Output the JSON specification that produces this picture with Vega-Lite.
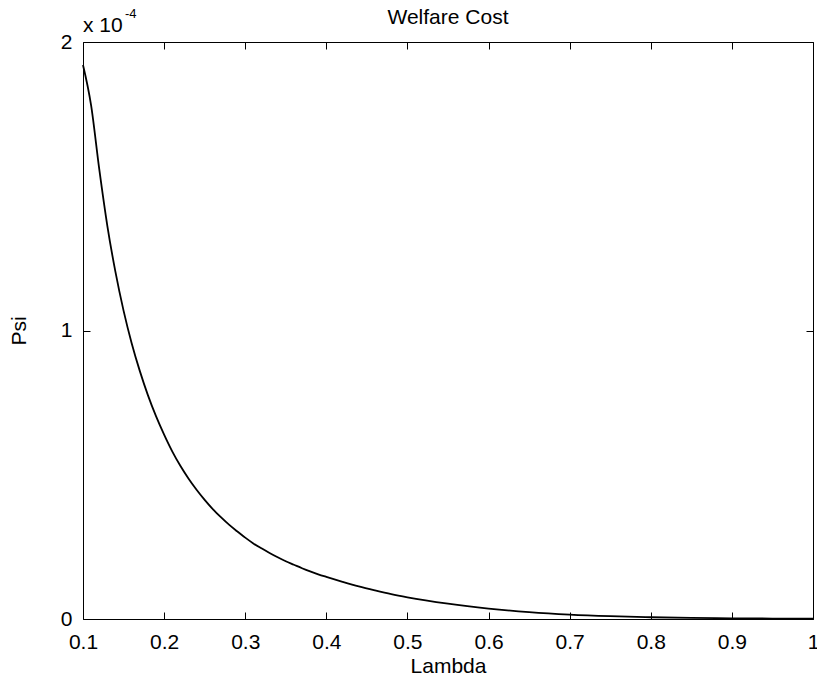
{
  "$schema": "https://vega.github.io/schema/vega-lite/v6.json",
  "width": 730,
  "height": 577,
  "autosize": {"type": "none"},
  "padding": {"left": 83, "top": 42, "right": 4, "bottom": 58},
  "background": "white",
  "config": {
    "view": {"stroke": "black", "strokeWidth": 1},
    "font": "Liberation Sans",
    "axis": {
      "grid": false,
      "domain": false,
      "ticks": true,
      "tickSize": -7,
      "tickColor": "black",
      "tickWidth": 1,
      "labelFont": "Liberation Sans",
      "labelFontSize": 21,
      "labelColor": "black",
      "labelFlush": false,
      "labelOverlap": false,
      "labelBound": false,
      "titleFont": "Liberation Sans",
      "titleFontSize": 21,
      "titleFontWeight": "normal",
      "titleColor": "black"
    }
  },
  "title": {
    "text": "Welfare Cost",
    "font": "Liberation Sans",
    "fontSize": 21,
    "fontWeight": "normal",
    "color": "black",
    "anchor": "middle",
    "offset": -20
  },
  "data": {
    "values": [
      {"lambda": 0.1, "psi": 0.000192},
      {"lambda": 0.11, "psi": 0.000178},
      {"lambda": 0.12, "psi": 0.000156},
      {"lambda": 0.13, "psi": 0.0001363},
      {"lambda": 0.14, "psi": 0.0001203},
      {"lambda": 0.15, "psi": 0.0001069},
      {"lambda": 0.16, "psi": 0.0000956},
      {"lambda": 0.17, "psi": 0.000086},
      {"lambda": 0.18, "psi": 0.0000776},
      {"lambda": 0.19, "psi": 0.0000703},
      {"lambda": 0.2, "psi": 0.0000639},
      {"lambda": 0.21, "psi": 0.0000581},
      {"lambda": 0.22, "psi": 0.0000531},
      {"lambda": 0.23, "psi": 0.0000487},
      {"lambda": 0.24, "psi": 0.0000448},
      {"lambda": 0.25, "psi": 0.0000413},
      {"lambda": 0.26, "psi": 0.0000381},
      {"lambda": 0.27, "psi": 0.0000353},
      {"lambda": 0.28, "psi": 0.0000327},
      {"lambda": 0.29, "psi": 0.0000304},
      {"lambda": 0.3, "psi": 0.0000282},
      {"lambda": 0.31, "psi": 0.0000262},
      {"lambda": 0.32, "psi": 0.0000245},
      {"lambda": 0.33, "psi": 0.0000229},
      {"lambda": 0.34, "psi": 0.0000214},
      {"lambda": 0.35, "psi": 0.00002},
      {"lambda": 0.36, "psi": 0.0000188},
      {"lambda": 0.37, "psi": 0.0000176},
      {"lambda": 0.38, "psi": 0.0000165},
      {"lambda": 0.39, "psi": 0.0000155},
      {"lambda": 0.4, "psi": 0.0000146},
      {"lambda": 0.42, "psi": 0.0000129},
      {"lambda": 0.44, "psi": 0.0000113},
      {"lambda": 0.46, "psi": 0.0000099},
      {"lambda": 0.48, "psi": 0.0000086},
      {"lambda": 0.5, "psi": 0.0000075},
      {"lambda": 0.55, "psi": 0.0000053},
      {"lambda": 0.6, "psi": 0.00000362},
      {"lambda": 0.65, "psi": 0.00000237},
      {"lambda": 0.7, "psi": 0.00000151},
      {"lambda": 0.75, "psi": 0.000000963},
      {"lambda": 0.8, "psi": 0.000000614},
      {"lambda": 0.85, "psi": 0.000000391},
      {"lambda": 0.9, "psi": 0.00000025},
      {"lambda": 0.95, "psi": 0.000000159},
      {"lambda": 1.0, "psi": 0.000000102}
    ]
  },
  "layer": [
    {
      "mark": {"type": "line", "color": "black", "strokeWidth": 1.8, "interpolate": "monotone"},
      "encoding": {
        "x": {
          "field": "lambda",
          "type": "quantitative",
          "scale": {"domain": [0.1, 1], "nice": false, "zero": false},
          "axis": {
            "orient": "bottom",
            "values": [0.1, 0.2, 0.3, 0.4, 0.5, 0.6, 0.7, 0.8, 0.9, 1.0],
            "labelExpr": "datum.value == 1 ? '1' : format(datum.value, '.1f')",
            "labelPadding": 19,
            "title": "Lambda",
            "titlePadding": 3
          }
        },
        "y": {
          "field": "psi",
          "type": "quantitative",
          "scale": {"domain": [0, 0.0002], "nice": false},
          "axis": {
            "orient": "left",
            "values": [0, 0.0001, 0.0002],
            "labelExpr": "'' + round(datum.value * 10000)",
            "labelPadding": 18,
            "title": "Psi",
            "titlePadding": 31
          }
        }
      }
    },
    {
      "mark": {"type": "line", "opacity": 0},
      "encoding": {
        "x": {
          "field": "lambda",
          "type": "quantitative",
          "axis": {
            "orient": "top",
            "values": [0.1, 0.2, 0.3, 0.4, 0.5, 0.6, 0.7, 0.8, 0.9, 1.0],
            "labels": false,
            "title": null
          }
        },
        "y": {
          "field": "psi",
          "type": "quantitative",
          "axis": {
            "orient": "right",
            "values": [0, 0.0001, 0.0002],
            "labels": false,
            "title": null
          }
        }
      }
    },
    {
      "data": {"values": [{"lambda": 0.1, "psi": 0.0002, "label": "x 10", "sup": "-4"}]},
      "layer": [
        {
          "mark": {"type": "text", "align": "left", "baseline": "alphabetic", "fontSize": 21, "font": "Liberation Sans", "color": "black", "dy": -10},
          "encoding": {
            "x": {"field": "lambda", "type": "quantitative", "axis": null},
            "y": {"field": "psi", "type": "quantitative", "axis": null},
            "text": {"field": "label"}
          }
        },
        {
          "mark": {"type": "text", "align": "left", "baseline": "alphabetic", "fontSize": 13, "font": "Liberation Sans", "color": "black", "dx": 42, "dy": -24},
          "encoding": {
            "x": {"field": "lambda", "type": "quantitative", "axis": null},
            "y": {"field": "psi", "type": "quantitative", "axis": null},
            "text": {"field": "sup"}
          }
        }
      ]
    }
  ],
  "resolve": {"axis": {"x": "independent", "y": "independent"}}
}
